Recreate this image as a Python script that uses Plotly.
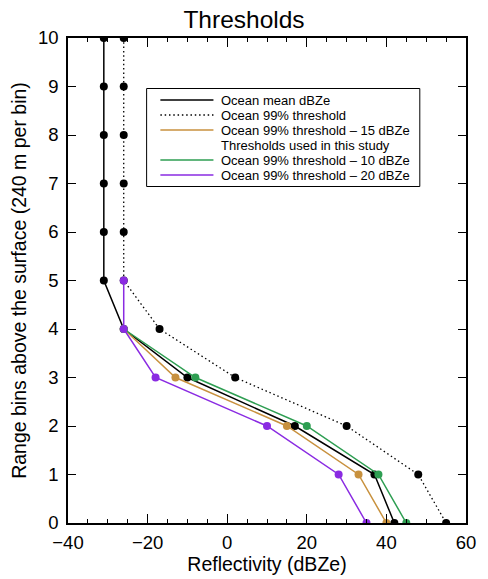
import plotly.graph_objects as go

# ---- data ----
levels = [10, 9, 8, 7, 6, 5, 4, 3, 2, 1, 0]
ocean_mean = [-31, -31, -31, -31, -31, -31, -26, -10, 17, 37, 42]
ocean_99 = [-26, -26, -26, -26, -26, -26, -17, 2, 30, 48, 55]
levels_low = [4, 3, 2, 1, 0]
thr_minus15 = [-26, -13, 15, 33, 40]
thr_minus10 = [-26, -8, 20, 38, 45]
levels_purple = [5, 4, 3, 2, 1, 0]
thr_minus20 = [-26, -26, -18, 10, 28, 35]

legend_labels = [
    "Ocean mean dBZe",
    "Ocean 99% threshold",
    "Ocean 99% threshold \u2013 15 dBZe",
    "Thresholds used in this study",
    "Ocean 99% threshold \u2013 10 dBZe",
    "Ocean 99% threshold \u2013 20 dBZe",
]

BLACK = "#000000"
ORANGE = "#C8913E"
GREEN = "#2E9E52"
PURPLE = "#8A2BE2"
DOTTED = "1.5px,2.8px"

W, H = 488, 579
L, R, T, B = 68, 15, 38, 56
PW, PH = W - L - R, H - T - B

def px(x):
    return (x - L) / PW

def py(y):
    return (H - B - y) / PH

fig = go.Figure()
mk = dict(size=8)
fig.add_trace(go.Scatter(x=ocean_99, y=levels, mode="lines+markers", name=legend_labels[1],
                         line=dict(color=BLACK, width=1.3, dash=DOTTED),
                         marker=dict(color=BLACK, **mk), showlegend=False))
fig.add_trace(go.Scatter(x=ocean_mean, y=levels, mode="lines+markers", name=legend_labels[0],
                         line=dict(color=BLACK, width=1.5),
                         marker=dict(color=BLACK, **mk), showlegend=False))
fig.add_trace(go.Scatter(x=thr_minus15, y=levels_low, mode="lines+markers", name=legend_labels[2],
                         line=dict(color=ORANGE, width=1.5),
                         marker=dict(color=ORANGE, **mk), showlegend=False))
fig.add_trace(go.Scatter(x=thr_minus10, y=levels_low, mode="lines+markers", name=legend_labels[4],
                         line=dict(color=GREEN, width=1.5),
                         marker=dict(color=GREEN, **mk), showlegend=False))
fig.add_trace(go.Scatter(x=thr_minus20, y=levels_purple, mode="lines+markers", name=legend_labels[5],
                         line=dict(color=PURPLE, width=1.5),
                         marker=dict(color=PURPLE, **mk), showlegend=False))

# ---- manual legend (styling) ----
ROW0, ROWSTEP = 100.0, 15.0
rows_y = [ROW0 + i * ROWSTEP for i in range(len(legend_labels))]
box = dict(x0=148, x1=426, y0=rows_y[0] - 11.5, y1=rows_y[-1] + 11.5)
fig.add_shape(type="rect", xref="paper", yref="paper",
              x0=px(box["x0"]), x1=px(box["x1"]), y0=py(box["y1"]), y1=py(box["y0"]),
              line=dict(color=BLACK, width=1), fillcolor="white", layer="above")
row_styles = [(BLACK, "solid"), (BLACK, DOTTED), (ORANGE, "solid"), None, (GREEN, "solid"), (PURPLE, "solid")]
for lab, yy, st in zip(legend_labels, rows_y, row_styles):
    if st is not None:
        fig.add_shape(type="line", xref="paper", yref="paper",
                      x0=px(162), x1=px(216), y0=py(yy), y1=py(yy),
                      line=dict(color=st[0], width=1.5, dash=st[1]), layer="above")
    fig.add_annotation(xref="paper", yref="paper", x=px(223), y=py(yy), text=lab,
                       showarrow=False, xanchor="left", yanchor="middle",
                       borderpad=0, font=dict(size=13, color=BLACK))

axis_common = dict(showline=True, linecolor=BLACK, linewidth=1.5, mirror="ticks",
                   ticks="inside", tickcolor=BLACK, tickwidth=1.2, showgrid=False,
                   zeroline=False, tickfont=dict(size=18.5, color=BLACK))

fig.update_xaxes(range=[-40, 60], dtick=20, tick0=-40, ticklen=9, ticklabelstandoff=2,
                 minor=dict(ticks="inside", ticklen=4, dtick=5, tick0=-40, tickcolor=BLACK, tickwidth=1.2),
                 title=dict(text="Reflectivity (dBZe)", font=dict(size=19.5, color=BLACK), standoff=0),
                 **axis_common)
fig.update_yaxes(range=[0, 10], dtick=1, tick0=0, ticklen=8, ticklabelstandoff=4,
                 title=dict(text="Range bins above the surface (240 m per bin)",
                            font=dict(size=19.5, color=BLACK), standoff=6),
                 **axis_common)

fig.update_layout(
    width=W, height=H,
    margin=dict(l=L, r=R, t=T, b=B),
    paper_bgcolor="white", plot_bgcolor="white",
    font=dict(family="Liberation Sans, Arial, sans-serif", color=BLACK),
    title=dict(text="Thresholds", x=px(270.5), xanchor="center", y=1 - 19 / H, yanchor="middle",
               font=dict(size=24.5, color=BLACK)),
    showlegend=False,
)

fig.write_html("out.html", config={"displayModeBar": False},
               post_script="document.body.style.margin='0';")
